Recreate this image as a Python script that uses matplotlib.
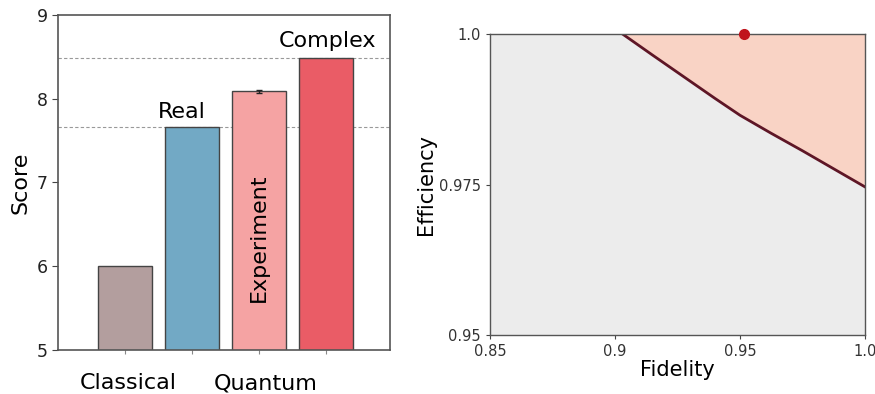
import numpy as np
import matplotlib
matplotlib.use('Agg')
import matplotlib.pyplot as plt

plt.rcParams['font.family'] = ['DejaVu Sans']

# left panel data
bar_names = ['Classical', 'Real', 'Experiment', 'Complex']
bar_values = [6.0, 7.66, 8.09, 8.49]
bar_errors = [0, 0, 0.02, 0]
bar_colors = ['#b39e9e', '#72a9c5', '#f5a3a3', '#ea5c66']
ref_lines = [7.66, 8.49]

# right panel data
bound_x = [0.903, 0.915, 0.9275, 0.94, 0.95, 0.9625, 0.975, 0.9875, 1.0]
bound_y = [1.0, 0.9965, 0.9929, 0.9893, 0.9865, 0.9835, 0.9806, 0.9776, 0.9746]
point_x = [0.9515]
point_y = [1.0]

fig = plt.figure(figsize=(8.75, 3.94), dpi=100)
ax1 = fig.add_axes([0.0663, 0.1117, 0.3794, 0.8503])
ax2 = fig.add_axes([0.56, 0.1497, 0.4286, 0.764])

edge = '#444444'
pos = np.arange(len(bar_values))
for y in ref_lines:
    ax1.axhline(y, color='#999999', ls=(0, (3, 2)), lw=0.8, zorder=1)
ax1.bar(pos, bar_values, width=0.81, color=bar_colors, edgecolor=edge,
        linewidth=1.0, zorder=2)
ax1.errorbar(pos[2], bar_values[2], yerr=bar_errors[2], color='#222222',
             capsize=2, lw=1, zorder=3)
ax1.set_ylim(5, 9)
ax1.set_xlim(-1.0, 3.95)
ax1.set_yticks([5, 6, 7, 8, 9])
ax1.set_xticks(pos)
ax1.set_xticklabels([])
ax1.tick_params(axis='y', labelsize=12.5, direction='out', length=4, color=edge,
                labelcolor='#222222')
ax1.tick_params(axis='x', direction='out', length=3, color='#888888')
for s in ax1.spines.values():
    s.set_color('#555555')
    s.set_linewidth(1.2)
ax1.set_ylabel('Score', fontsize=16, labelpad=4)
ax1.text(0.85, 7.77, 'Real', fontsize=16, ha='center', va='baseline')
ax1.text(3.02, 8.62, 'Complex', fontsize=16, ha='center', va='baseline')
ax1.text(2.0, 6.34, 'Experiment', fontsize=16, rotation=90, ha='center', va='center')
ax1.text(0.04, 4.6, 'Classical', fontsize=16, ha='center', va='center', clip_on=False)
ax1.text(2.09, 4.6, 'Quantum', fontsize=16, ha='center', va='center', clip_on=False)

# right panel
ax2.set_facecolor('#ececec')
ax2.fill_between(bound_x, bound_y, 1.0, color='#f9d3c5', lw=0, zorder=1)
ax2.plot(bound_x, bound_y, color='#5e1626', lw=2, zorder=2)
ax2.plot(point_x, point_y, 'o', color='#c0141c', ms=7, clip_on=False, zorder=4)
ax2.set_xlim(0.85, 1.0)
ax2.set_ylim(0.95, 1.0)
ax2.set_xticks([0.85, 0.9, 0.95, 1.0])
ax2.set_xticklabels(['0.85', '0.9', '0.95', '1.0'])
ax2.set_yticks([0.95, 0.975, 1.0])
ax2.set_yticklabels(['0.95', '0.975', '1.0'])
ax2.tick_params(labelsize=10.5, direction='out', length=3, color=edge,
                labelcolor='#333333')
for s in ax2.spines.values():
    s.set_color('#555555')
    s.set_linewidth(1.0)
ax2.set_xlabel('Fidelity', fontsize=15, labelpad=1)
ax2.set_ylabel('Efficiency', fontsize=15, labelpad=2)

fig.savefig('out.png', dpi=100)
